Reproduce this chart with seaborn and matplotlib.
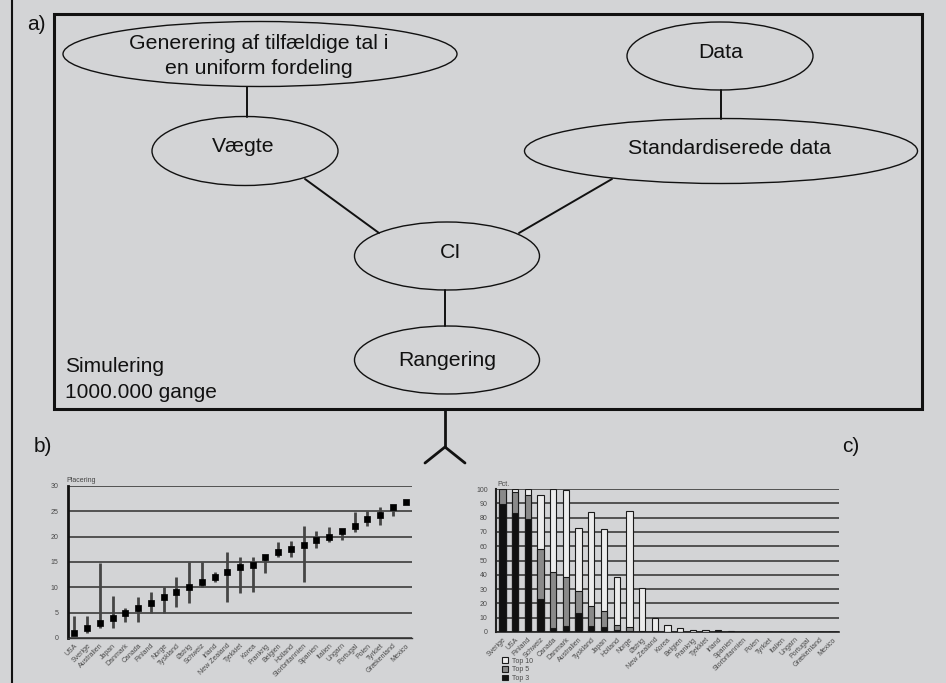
import matplotlib
matplotlib.use('Agg')
import matplotlib.pyplot as plt
from matplotlib.patches import Ellipse, Rectangle, Patch
import seaborn as sns
import numpy as np

sns.set_style('white')
plt.rcParams['font.family'] = ['Liberation Sans', 'DejaVu Sans']

BG = '#d3d4d6'

# ---------------- Panel b data: rank (placering) with range ----------------
b_countries = ['USA', 'Sverige', 'Australien', 'Japan', 'Danmark', 'Canada', 'Finland',
               'Norge', 'Tyskland', 'Østrig', 'Schweiz', 'Irland', 'New Zealand', 'Tjekkiet',
               'Korea', 'Frankrig', 'Belgien', 'Holland', 'Storbritannien', 'Spanien',
               'Italien', 'Ungarn', 'Portugal', 'Polen', 'Tyrkiet', 'Grækenland', 'Mexico']
b_rank = [1, 2, 3, 4, 5, 6, 7, 8, 9, 10, 11, 12, 13, 14, 14.5, 15.9, 16.9, 17.6, 18.4,
          19.3, 20, 21.1, 22.2, 23.4, 24.3, 25.9, 26.9]
b_low = [1, 1, 2, 2, 3.2, 3.2, 5, 5, 6.2, 7, 10, 11, 7.2, 8.8, 9, 12.9, 15.9, 16, 11.1,
         17.8, 19, 19.3, 21, 22.1, 22.3, 24.1, 26.9]
b_high = [4.3, 4.3, 14.9, 8.3, 6, 8.1, 9.1, 10, 12, 15, 15, 13, 17, 16, 16, 16.3, 19,
          19.1, 22.2, 21.1, 21.9, 21.2, 24.9, 25, 25.8, 26, 26.9]

# ---------------- Panel c data: pct. in top 10 / top 5 / top 3 ----------------
c_countries = ['Sverige', 'USA', 'Finland', 'Schweiz', 'Canada', 'Danmark', 'Australien',
               'Tyskland', 'Japan', 'Holland', 'Norge', 'Østrig', 'New Zealand', 'Korea',
               'Belgien', 'Frankrig', 'Tjekkiet', 'Irland', 'Spanien', 'Storbritannien',
               'Polen', 'Tyrkiet', 'Italien', 'Ungarn', 'Portugal', 'Grækenland', 'Mexico']
c_top10 = [100, 100, 100, 96, 100, 99.3, 72.6, 84, 72.3, 38.4, 84.4, 30.7, 9.5, 4.7,
           2.8, 1.6, 1.6, 1.2, 0.6, 0, 0, 0, 0, 0, 0, 0, 0]
c_top5 = [100, 98, 95.8, 58, 42, 38.4, 28.6, 18.4, 14.7, 4.7, 3.5, 0.5, 1, 0,
          0, 0, 0, 0.8, 0.3, 0, 0, 0, 0, 0, 0, 0, 0]
c_top3 = [89.5, 83, 79, 23, 2.8, 4.4, 13.3, 4, 3.7, 1.2, 1, 0, 0, 0,
          0, 0, 0, 0, 0, 0, 0, 0, 0, 0, 0, 0, 0]
c_legend = ['Top 10', 'Top 5', 'Top 3']
c_colors = ['#ececec', '#8a8a8a', '#111111']

# ---------------- Diagram layout (pixel coordinates) ----------------
nodes = [  # cx, cy, w, h, text, tx, ty
    (260, 54, 394, 65, 'Generering af tilfældige tal i\nen uniform fordeling', 259, 56),
    (720, 56, 186, 68, 'Data', 721, 53),
    (245, 151, 186, 69, 'Vægte', 243, 147),
    (721, 151, 393, 65, 'Standardiserede data', 729, 148),
    (447, 256, 185, 68, 'CI', 450, 253),
    (447, 360, 185, 68, 'Rangering', 447, 360),
]
edges = [((247, 87), (247, 117)), ((721, 90), (721, 119)),
         ((305, 179), (379, 233)), ((612, 179), (519, 233)),
         ((445, 290), (445, 326))]

W, H = 946, 683
fig = plt.figure(figsize=(W / 100, H / 100), dpi=100, facecolor=BG)
ax0 = fig.add_axes([0, 0, 1, 1])
ax0.set_xlim(0, W)
ax0.set_ylim(H, 0)
ax0.axis('off')
ax0.set_facecolor(BG)

ax0.plot([12, 12], [0, H], color='#111', lw=1.5)
ax0.add_patch(Rectangle((54, 14), 868, 395, fill=False, ec='#111', lw=2.2))
for cx, cy, w, h, t, tx, ty in nodes:
    ax0.add_patch(Ellipse((cx, cy), w, h, fill=False, ec='#111', lw=1.0))
    ax0.text(tx, ty, t, ha='center', va='center', fontsize=15.3, color='#111',
             linespacing=1.38)
for (x1, y1), (x2, y2) in edges:
    ax0.plot([x1, x2], [y1, y2], color='#111', lw=1.4)
ax0.plot([445, 445], [409, 447], color='#111', lw=2)
ax0.plot([425, 445, 465], [463, 447, 463], color='#111', lw=2)

ax0.text(27, 25, 'a)', fontsize=15, va='center', color='#111')
ax0.text(65, 367, 'Simulering', fontsize=15, va='center', color='#111')
ax0.text(65, 393, '1000.000 gange', fontsize=15, va='center', color='#111')
ax0.text(34, 446, 'b)', fontsize=15, va='center', color='#111')
ax0.text(842, 446, 'c)', fontsize=15, va='center', color='#111')
ax0.text(66, 481, 'Placering', fontsize=5, va='center', color='#444')
ax0.text(497, 484, 'Pct.', fontsize=5, va='center', color='#444')

GRID = '#3c3c3c'
TXT = '#4a4a4a'

# ---------------- Panel b ----------------
axb = fig.add_axes([68 / W, 1 - 638 / H, (412 - 68) / W, (638 - 486) / H])
axb.set_facecolor('none')
n = len(b_countries)
sns.scatterplot(x=b_countries, y=b_rank, marker='s', s=22, color='black',
                edgecolor='black', linewidth=0.5, ax=axb, zorder=4)
axb.vlines(b_countries, b_low, b_high, color='#454545', lw=2, zorder=3)
axb.set_xlim(-0.5, n - 0.5)
axb.set_ylim(0, 30)
axb.set_yticks(range(0, 31, 5))
axb.yaxis.grid(True, color=GRID, lw=1.2)
axb.set_axisbelow(True)
axb.set_xticks(range(n))
axb.set_xticklabels(b_countries, rotation=45, ha='right', rotation_mode='anchor',
                    fontsize=5, color=TXT)
axb.set_xticks(np.arange(-0.5, n, 1), minor=True)
axb.tick_params(axis='x', which='major', length=0, pad=3)
axb.tick_params(axis='x', which='minor', length=3, width=0.8, color='#333')
axb.tick_params(axis='y', length=0, pad=7, labelsize=5, labelcolor=TXT)
for s in ['top', 'right']:
    axb.spines[s].set_visible(False)
axb.spines['left'].set_color('#111')
axb.spines['left'].set_linewidth(2)
axb.spines['bottom'].set_color('#333')
axb.spines['bottom'].set_linewidth(1)
axb.set_xlabel('')
axb.set_ylabel('')

# ---------------- Panel c ----------------
axc = fig.add_axes([496 / W, 1 - 632 / H, (839 - 496) / W, (632 - 489) / H])
axc.set_facecolor('none')
for vals, col in zip([c_top10, c_top5, c_top3], c_colors):
    sns.barplot(x=c_countries, y=vals, color=col, saturation=1, width=0.5,
                edgecolor='#1a1a1a', linewidth=0.8, ax=axc, zorder=3)
m = len(c_countries)
axc.set_xlim(-0.5, m - 0.5)
axc.set_ylim(0, 100)
axc.set_yticks(range(0, 101, 10))
axc.yaxis.grid(True, color=GRID, lw=1.2)
axc.set_axisbelow(True)
axc.set_xticks(range(m))
axc.set_xticklabels(c_countries, rotation=45, ha='right', rotation_mode='anchor',
                    fontsize=5, color=TXT)
axc.set_xticks(np.arange(-0.5, m, 1), minor=True)
axc.tick_params(axis='x', which='major', length=0, pad=3)
axc.tick_params(axis='x', which='minor', length=3, width=0.8, color='#333')
axc.tick_params(axis='y', length=0, pad=6, labelsize=5, labelcolor=TXT)
for s in ['top', 'right']:
    axc.spines[s].set_visible(False)
axc.spines['left'].set_color('#222')
axc.spines['left'].set_linewidth(1.5)
axc.spines['bottom'].set_color('#222')
axc.spines['bottom'].set_linewidth(1.2)
axc.set_xlabel('')
axc.set_ylabel('')

handles = [Patch(facecolor=c, edgecolor='#1a1a1a', lw=0.8) for c in c_colors]
fig.legend(handles, c_legend, loc='upper left', bbox_to_anchor=(499 / W, 1 - 654 / H),
           frameon=False, fontsize=5, handlelength=0.8, handleheight=0.8,
           handletextpad=0.6, borderpad=0, labelspacing=0.25, labelcolor=TXT)

fig.savefig('out.png', dpi=100, facecolor=BG)
